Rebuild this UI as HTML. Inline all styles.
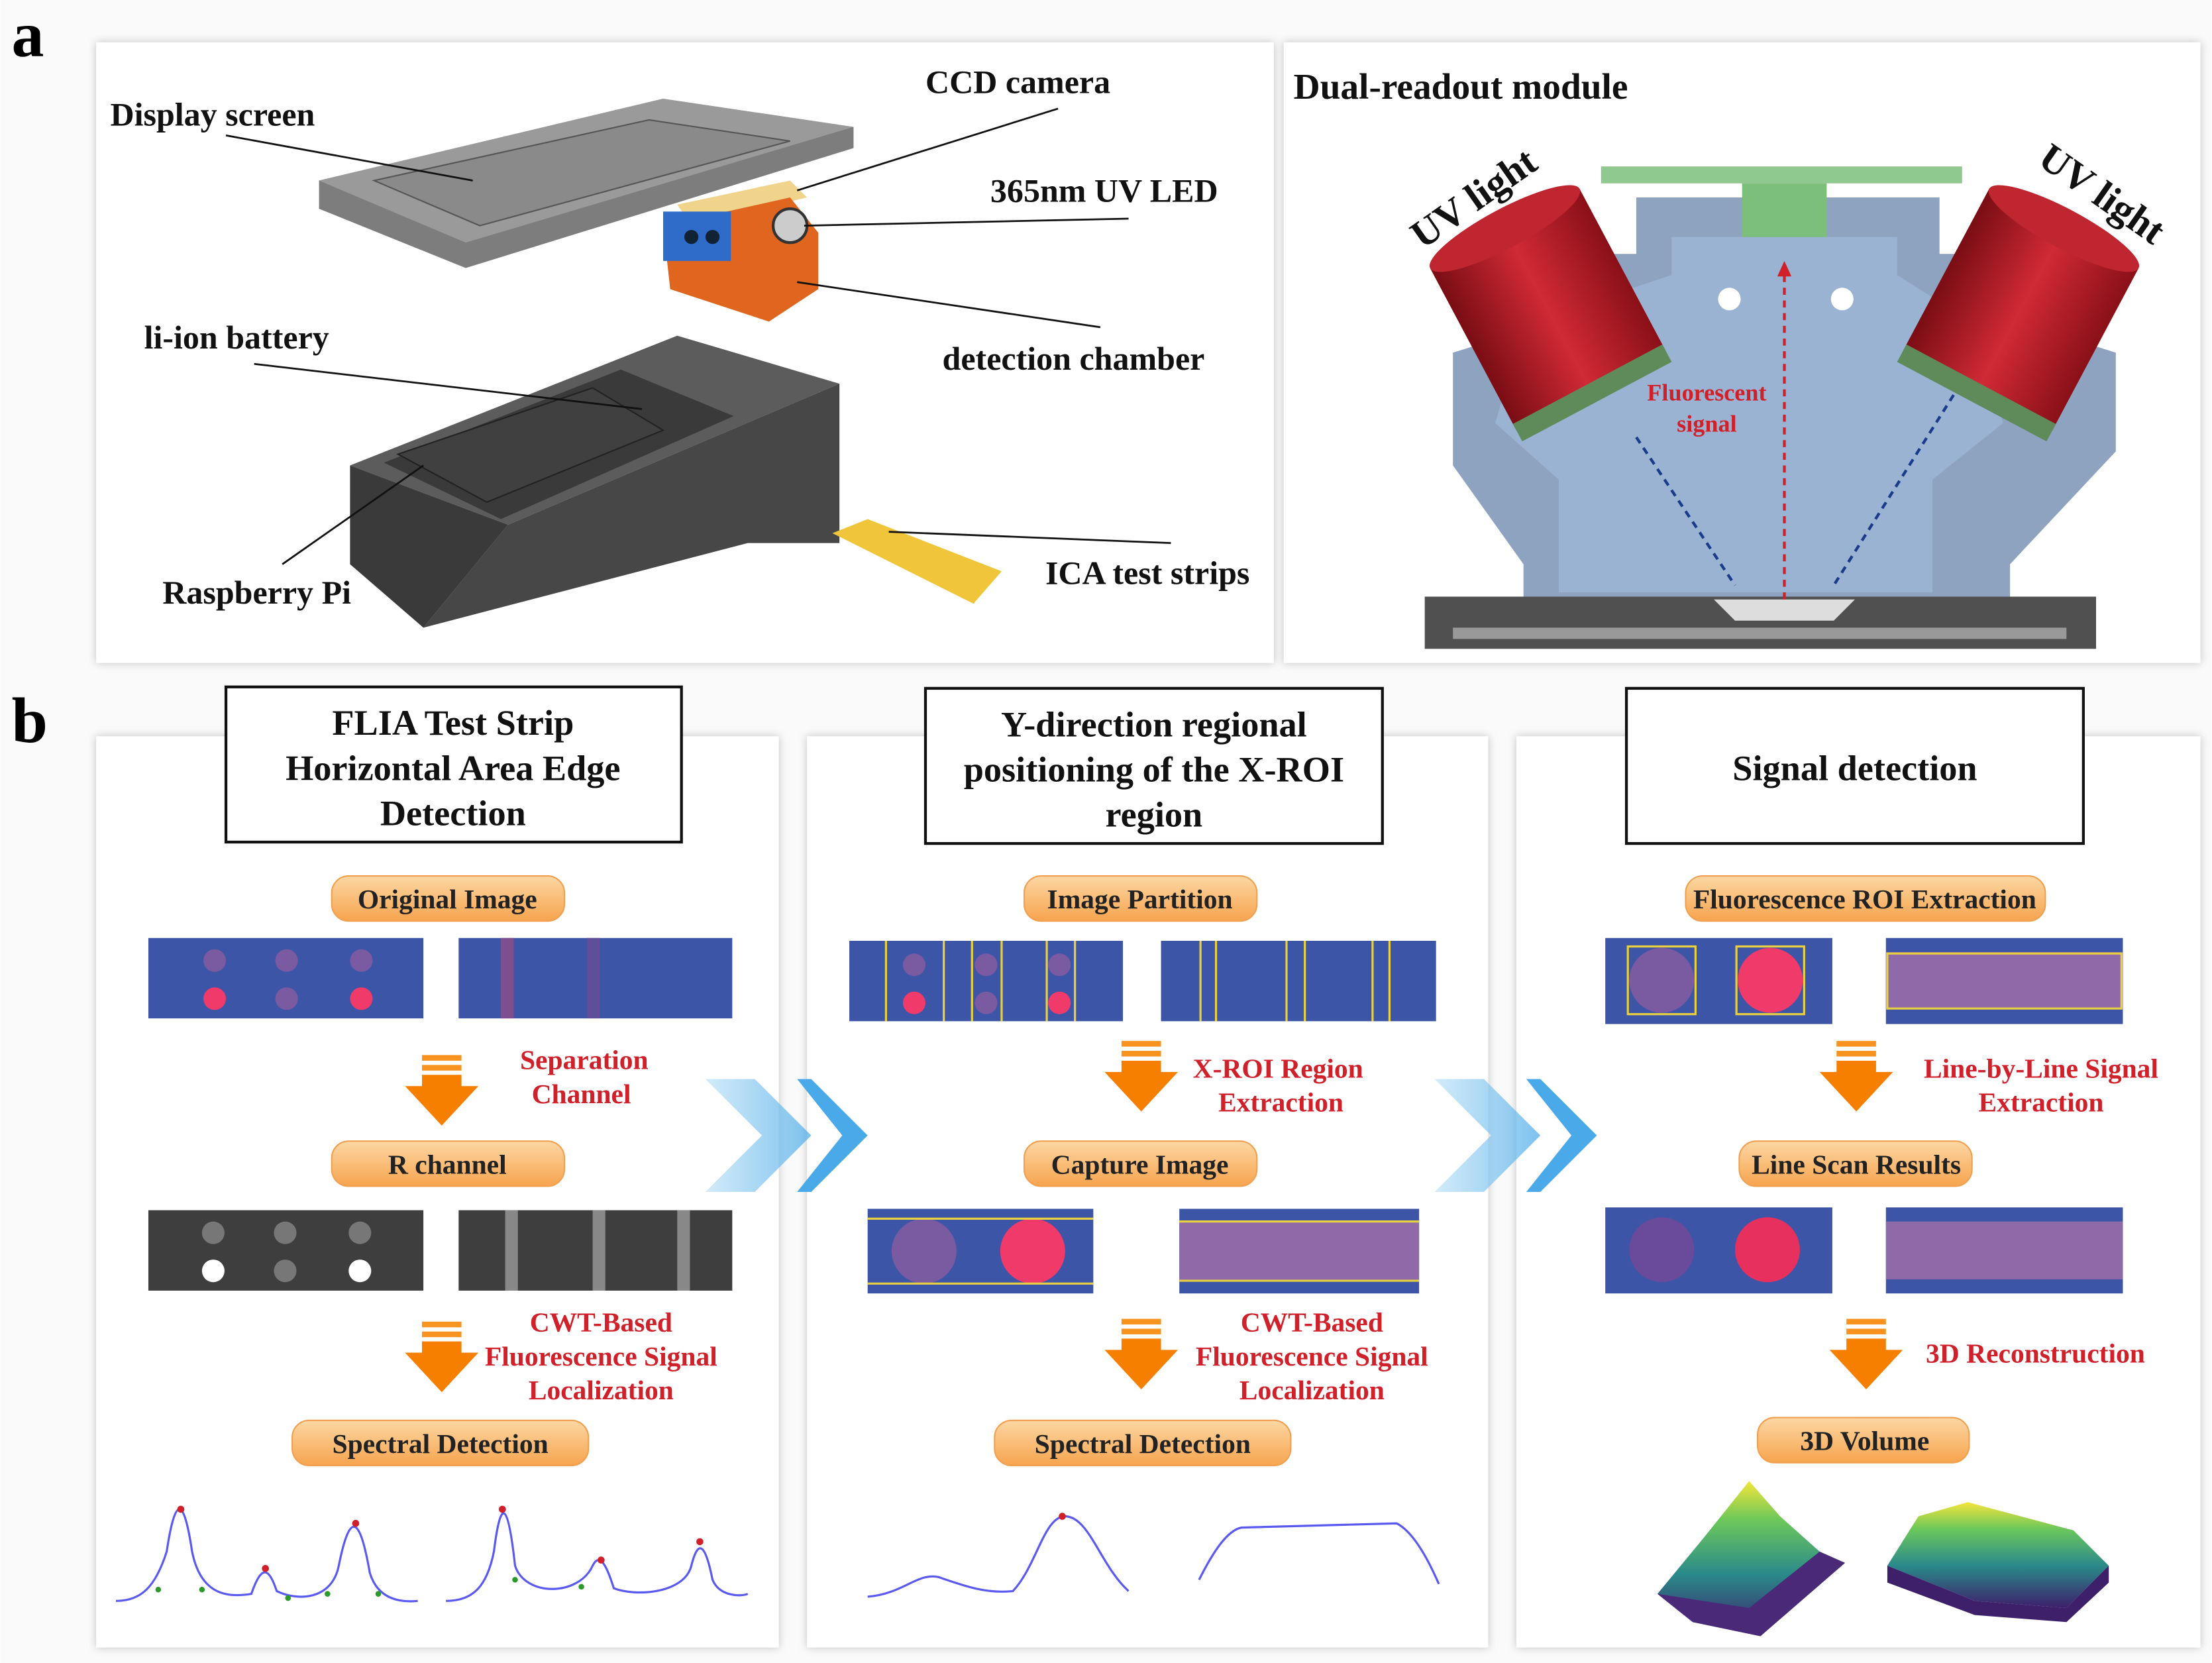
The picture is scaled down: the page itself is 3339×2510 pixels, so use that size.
<!DOCTYPE html>
<html><head><meta charset="utf-8"><style>
html,body{margin:0;padding:0;background:#fff}
svg{display:block}
text{font-family:"Liberation Serif",serif;font-weight:bold}
</style></head><body>
<svg width="3339" height="2510" viewBox="0 0 1568 1179" xmlns="http://www.w3.org/2000/svg">
<defs>
<linearGradient id="pill" x1="0" y1="0" x2="0" y2="1"><stop offset="0" stop-color="#fcd7a3"/><stop offset="1" stop-color="#f7a44e"/></linearGradient>
<linearGradient id="chev" x1="0" y1="0" x2="1" y2="0"><stop offset="0" stop-color="#bfe3f7"/><stop offset="1" stop-color="#47a8e8"/></linearGradient>
<linearGradient id="red" x1="0" y1="0" x2="1" y2="0"><stop offset="0" stop-color="#7a0d14"/><stop offset="0.5" stop-color="#d02a35"/><stop offset="1" stop-color="#8a1018"/></linearGradient>
<linearGradient id="vol" x1="0" y1="1" x2="0" y2="0"><stop offset="0" stop-color="#3d1f6a"/><stop offset="0.4" stop-color="#2a8a8a"/><stop offset="0.75" stop-color="#6cc85a"/><stop offset="1" stop-color="#f4e53a"/></linearGradient>
<filter id="sh"><feDropShadow dx="0" dy="0" stdDeviation="3" flood-color="#999" flood-opacity="0.6"/></filter>
<g id="arr"><rect x="-14" y="0" width="28" height="4" fill="#f7931e"/><rect x="-14" y="7" width="28" height="4" fill="#f7931e"/><polygon points="-14,14 14,14 14,22 26,22 0,50 -26,22 -14,22" fill="#f77f00"/></g>
</defs>
<rect width="1568" height="1179" fill="#fafafa"/>
<text x="8" y="40" font-size="46">a</text>
<text x="8" y="526" font-size="46">b</text>
<rect x="68" y="30" width="835" height="440" fill="#fff" filter="url(#sh)"/>
<rect x="910" y="30" width="650" height="440" fill="#fff" filter="url(#sh)"/>
<!-- display screen -->
<polygon points="226,128 470,70 605,90 605,105 330,190 226,148" fill="#7d7d7d"/>
<polygon points="226,128 470,70 605,90 330,172" fill="#9a9a9a"/>
<polygon points="265,128 460,85 560,100 340,160" fill="#8a8a8a" stroke="#555" stroke-width="1"/>
<!-- chamber -->
<polygon points="480,145 560,128 572,140 490,160" fill="#f0d48c"/>
<polygon points="470,160 560,140 580,165 580,205 545,228 475,205" fill="#e0661f"/>
<rect x="470" y="150" width="48" height="35" fill="#2f6bc9"/>
<circle cx="490" cy="168" r="5" fill="#123"/><circle cx="505" cy="168" r="5" fill="#123"/>
<circle cx="560" cy="160" r="12" fill="#ccc" stroke="#333" stroke-width="2"/>
<!-- box -->
<polygon points="248,330 480,238 595,272 360,372" fill="#5c5c5c"/>
<polygon points="360,372 595,272 595,385 530,385 300,445" fill="#474747"/>
<polygon points="248,330 360,372 300,445 248,400" fill="#3a3a3a"/>
<polygon points="272,328 440,262 520,295 355,368" fill="#3a3a3a"/>
<polygon points="282,322 420,275 470,305 345,356" fill="#404040" stroke="#222"/>
<!-- strip -->
<polygon points="590,378 615,368 710,405 690,428" fill="#f0c53a"/>
<g stroke="#111" stroke-width="1.3">
<line x1="160" y1="96" x2="335" y2="128"/><line x1="750" y1="77" x2="565" y2="135"/>
<line x1="800" y1="155" x2="570" y2="160"/><line x1="780" y1="232" x2="565" y2="200"/>
<line x1="180" y1="258" x2="455" y2="290"/><line x1="200" y1="400" x2="300" y2="330"/>
<line x1="830" y1="385" x2="630" y2="377"/>
</g>
<g font-size="23.5" fill="#111">
<text x="78" y="89">Display screen</text><text x="656" y="66">CCD camera</text>
<text x="702" y="143">365nm UV LED</text><text x="668" y="262">detection chamber</text>
<text x="102" y="247">li-ion battery</text><text x="115" y="428">Raspberry Pi</text>
<text x="741" y="414">ICA test strips</text>
<text x="917" y="70" font-size="26">Dual-readout module</text>
</g>
<!-- module -->
<polygon points="1160,140 1375,140 1375,180 1420,180 1420,225 1500,250 1500,320 1425,400 1425,425 1080,425 1080,400 1030,330 1030,250 1110,225 1110,180 1160,180" fill="#8ea3c0"/>
<polygon points="1185,168 1345,168 1345,195 1400,230 1420,300 1370,340 1370,420 1105,420 1105,340 1060,300 1080,230 1185,195" fill="#9bb3d2"/>
<rect x="1135" y="118" width="256" height="12" fill="#8fc98f"/>
<rect x="1235" y="130" width="60" height="38" fill="#7bbf7b"/>
<circle cx="1226" cy="212" r="8" fill="#fff"/><circle cx="1306" cy="212" r="8" fill="#fff"/>
<g transform="rotate(-28 1095 215)"><rect x="1035" y="155" width="120" height="130" fill="url(#red)"/><ellipse cx="1095" cy="155" rx="60" ry="14" fill="#c02630"/><rect x="1035" y="280" width="120" height="14" fill="#5f8a5a"/></g>
<g transform="rotate(28 1435 215)"><rect x="1375" y="155" width="120" height="130" fill="url(#red)"/><ellipse cx="1435" cy="155" rx="60" ry="14" fill="#c02630"/><rect x="1375" y="280" width="120" height="14" fill="#5f8a5a"/></g>
<rect x="1010" y="423" width="476" height="37" fill="#505050"/><rect x="1030" y="445" width="435" height="8" fill="#999"/>
<polygon points="1215,425 1315,425 1300,440 1230,440" fill="#ddd"/>
<g stroke-width="2" stroke-dasharray="5,4" fill="none">
<line x1="1265" y1="425" x2="1265" y2="190" stroke="#d0202a"/>
<line x1="1160" y1="310" x2="1230" y2="415" stroke="#1a3a8a"/>
<line x1="1385" y1="280" x2="1300" y2="415" stroke="#1a3a8a"/>
</g>
<polygon points="1265,185 1260,196 1270,196" fill="#d0202a"/>
<text x="1210" y="284" font-size="17" fill="#d0202a" text-anchor="middle">Fluorescent</text>
<text x="1210" y="306" font-size="17" fill="#d0202a" text-anchor="middle">signal</text>
<text x="1050" y="148" font-size="28" fill="#111" transform="rotate(-35 1050 148)" text-anchor="middle">UV light</text>
<text x="1485" y="145" font-size="28" fill="#111" transform="rotate(35 1485 145)" text-anchor="middle">UV light</text>
<!-- panel b -->
<rect x="68" y="522" width="484" height="646" fill="#fff" filter="url(#sh)"/>
<rect x="572" y="522" width="483" height="646" fill="#fff" filter="url(#sh)"/>
<rect x="1075" y="522" width="485" height="646" fill="#fff" filter="url(#sh)"/>
<g fill="#fff" stroke="#111" stroke-width="2"><rect x="160" y="487" width="323" height="110"/><rect x="656" y="488" width="324" height="110"/><rect x="1153" y="488" width="324" height="110"/></g>
<g font-size="25.5" fill="#111" text-anchor="middle">
<text x="321" y="521">FLIA Test Strip</text><text x="321" y="553">Horizontal Area Edge</text><text x="321" y="585">Detection</text>
<text x="818" y="522">Y-direction regional</text><text x="818" y="554">positioning of the X-ROI</text><text x="818" y="586">region</text>
<text x="1315" y="553">Signal detection</text>
</g>
<g><polygon points="500,765 535,765 575,805 535,845 500,845 540,805" fill="url(#chev)" opacity="0.7"/><polygon points="565,765 575,765 615,805 575,845 565,845 597,805" fill="#4aa9e8"/></g>
<g transform="translate(517 0)"><polygon points="500,765 535,765 575,805 535,845 500,845 540,805" fill="url(#chev)" opacity="0.7"/><polygon points="565,765 575,765 615,805 575,845 565,845 597,805" fill="#4aa9e8"/></g>
<g fill="url(#pill)" stroke="#f0a050">
<rect x="235" y="621" width="165" height="32" rx="12"/><rect x="235" y="809" width="165" height="32" rx="12"/><rect x="207" y="1007" width="210" height="32" rx="12"/>
<rect x="726" y="621" width="165" height="32" rx="12"/><rect x="726" y="809" width="165" height="32" rx="12"/><rect x="705" y="1007" width="210" height="32" rx="12"/>
<rect x="1195" y="621" width="255" height="32" rx="12"/><rect x="1233" y="809" width="165" height="32" rx="12"/><rect x="1246" y="1005" width="150" height="32" rx="12"/>
</g>
<g font-size="19.5" fill="#222" text-anchor="middle">
<text x="317" y="644">Original Image</text><text x="317" y="832">R channel</text><text x="312" y="1030">Spectral Detection</text>
<text x="808" y="644">Image Partition</text><text x="808" y="832">Capture Image</text><text x="810" y="1030">Spectral Detection</text>
<text x="1322" y="644">Fluorescence ROI Extraction</text><text x="1316" y="832">Line Scan Results</text><text x="1322" y="1028">3D Volume</text>
</g>
<g font-size="19.5" fill="#d0202a" text-anchor="middle">
<text x="414" y="758">Separation</text><text x="412" y="782">Channel</text>
<text x="426" y="944">CWT-Based</text><text x="426" y="968">Fluorescence Signal</text><text x="426" y="992">Localization</text>
<text x="906" y="764">X-ROI Region</text><text x="908" y="788">Extraction</text>
<text x="930" y="944">CWT-Based</text><text x="930" y="968">Fluorescence Signal</text><text x="930" y="992">Localization</text>
<text x="1447" y="764">Line-by-Line Signal</text><text x="1447" y="788">Extraction</text>
<text x="1443" y="966">3D Reconstruction</text>
</g>
<use href="#arr" x="313" y="748"/><use href="#arr" x="313" y="937"/>
<use href="#arr" x="809" y="738"/><use href="#arr" x="809" y="935"/>
<use href="#arr" x="1316" y="738"/><use href="#arr" x="1323" y="935"/>
<rect x="105" y="665" width="195" height="57" fill="#3d55a6"/><rect x="325" y="665" width="194" height="57" fill="#3d55a6"/>
<g fill="#7a5aa0"><circle cx="152" cy="681" r="8"/><circle cx="203" cy="681" r="8"/><circle cx="256" cy="681" r="8"/><circle cx="203" cy="708" r="8"/></g>
<circle cx="152" cy="708" r="8" fill="#f03a6a"/><circle cx="256" cy="708" r="8" fill="#f03a6a"/>
<rect x="355" y="665" width="9" height="57" fill="#7e4f8f"/><rect x="416" y="665" width="9" height="57" fill="#5e4f98"/>
<rect x="105" y="858" width="195" height="57" fill="#3e3e3e"/><rect x="325" y="858" width="194" height="57" fill="#3e3e3e"/>
<g fill="#777"><circle cx="151" cy="874" r="8"/><circle cx="202" cy="874" r="8"/><circle cx="255" cy="874" r="8"/><circle cx="202" cy="901" r="8"/></g>
<circle cx="151" cy="901" r="8" fill="#fff"/><circle cx="255" cy="901" r="8" fill="#fff"/>
<g fill="#888"><rect x="358" y="858" width="9" height="57"/><rect x="420" y="858" width="9" height="57"/><rect x="480" y="858" width="9" height="57"/></g>
<rect x="602" y="667" width="194" height="57" fill="#3d55a6"/><rect x="823" y="667" width="195" height="57" fill="#3d55a6"/>
<g fill="#7a5aa0"><circle cx="648" cy="684" r="8"/><circle cx="699" cy="684" r="8"/><circle cx="751" cy="684" r="8"/><circle cx="699" cy="711" r="8"/></g>
<circle cx="648" cy="711" r="8" fill="#f03a6a"/><circle cx="751" cy="711" r="8" fill="#f03a6a"/>
<g stroke="#e8d040" stroke-width="1.5" fill="none"><line x1="628" y1="667" x2="628" y2="724"/><line x1="669" y1="667" x2="669" y2="724"/><line x1="689" y1="667" x2="689" y2="724"/><line x1="710" y1="667" x2="710" y2="724"/><line x1="742" y1="667" x2="742" y2="724"/><line x1="762" y1="667" x2="762" y2="724"/>
<line x1="851" y1="667" x2="851" y2="724"/><line x1="862" y1="667" x2="862" y2="724"/><line x1="912" y1="667" x2="912" y2="724"/><line x1="925" y1="667" x2="925" y2="724"/><line x1="973" y1="667" x2="973" y2="724"/><line x1="985" y1="667" x2="985" y2="724"/></g>
<rect x="615" y="857" width="160" height="60" fill="#3d55a6"/><rect x="836" y="857" width="170" height="60" fill="#3d55a6"/>
<circle cx="655" cy="887" r="23" fill="#7a5aa0"/><circle cx="732" cy="887" r="23" fill="#f03a6a"/>
<rect x="836" y="866" width="170" height="42" fill="#8e6aa8"/>
<g stroke="#e8d040" stroke-width="1.5"><line x1="615" y1="864" x2="775" y2="864"/><line x1="615" y1="910" x2="775" y2="910"/><line x1="836" y1="866" x2="1006" y2="866"/><line x1="836" y1="908" x2="1006" y2="908"/></g>
<rect x="1138" y="665" width="161" height="61" fill="#3d55a6"/><rect x="1337" y="665" width="168" height="61" fill="#3d55a6"/>
<circle cx="1178" cy="695" r="23" fill="#7a5aa0"/><circle cx="1255" cy="695" r="23" fill="#f03a6a"/>
<rect x="1337" y="675" width="168" height="40" fill="#8e6aa8"/>
<g stroke="#e8d040" stroke-width="1.5" fill="none"><rect x="1154" y="671" width="48" height="48"/><rect x="1231" y="671" width="48" height="48"/><rect x="1338" y="676" width="166" height="39"/></g>
<rect x="1138" y="856" width="161" height="61" fill="#3d55a6"/><rect x="1337" y="856" width="168" height="61" fill="#3d55a6"/>
<circle cx="1178" cy="886" r="23" fill="#6a4a9a"/><circle cx="1253" cy="886" r="23" fill="#e8305f"/>
<rect x="1337" y="866" width="168" height="41" fill="#8e6aa8"/>
<g fill="none" stroke="#5a5af0" stroke-width="1.5">
<path d="M82,1135 C100,1135 110,1125 118,1100 C124,1060 130,1060 136,1100 C142,1130 160,1133 178,1130 C185,1110 190,1110 196,1128 C210,1135 235,1135 240,1110 C248,1070 255,1075 262,1115 C268,1135 285,1136 296,1135"/>
<path d="M316,1135 C335,1135 345,1125 350,1100 C355,1060 360,1065 365,1110 C372,1132 410,1132 420,1110 C425,1100 430,1110 435,1126 C450,1132 485,1130 490,1110 C495,1090 500,1095 505,1120 C510,1132 525,1132 530,1130"/>
<path d="M615,1132 C640,1130 650,1115 665,1118 C685,1125 700,1130 718,1128 C735,1110 740,1075 755,1075 C772,1075 780,1110 800,1128"/>
<path d="M850,1120 C860,1100 870,1085 880,1083 L990,1080 C1000,1085 1010,1100 1020,1123"/>
</g>
<g fill="#2a9a2a"><circle cx="112" cy="1127" r="2"/><circle cx="143" cy="1127" r="2"/><circle cx="204" cy="1133" r="2"/><circle cx="232" cy="1130" r="2"/><circle cx="268" cy="1130" r="2"/><circle cx="365" cy="1120" r="2"/><circle cx="412" cy="1125" r="2"/></g>
<g fill="#d0202a"><circle cx="128" cy="1070" r="2.5"/><circle cx="188" cy="1112" r="2.5"/><circle cx="252" cy="1080" r="2.5"/><circle cx="356" cy="1070" r="2.5"/><circle cx="426" cy="1106" r="2.5"/><circle cx="496" cy="1093" r="2.5"/><circle cx="753" cy="1075" r="2.5"/></g>
<polygon points="1175,1130 1208,1090 1240,1050 1262,1075 1290,1100 1308,1108 1248,1160 1200,1150" fill="url(#vol)"/>
<polygon points="1175,1130 1200,1150 1248,1160 1308,1108 1290,1100 1240,1140" fill="#4a2a78"/>
<polygon points="1338,1110 1360,1075 1395,1065 1470,1085 1495,1110 1465,1140 1400,1135" fill="url(#vol)"/>
<polygon points="1338,1110 1400,1135 1465,1140 1495,1110 1495,1122 1465,1150 1400,1145 1338,1122" fill="#3d1f6a"/>
</svg>
</body></html>
